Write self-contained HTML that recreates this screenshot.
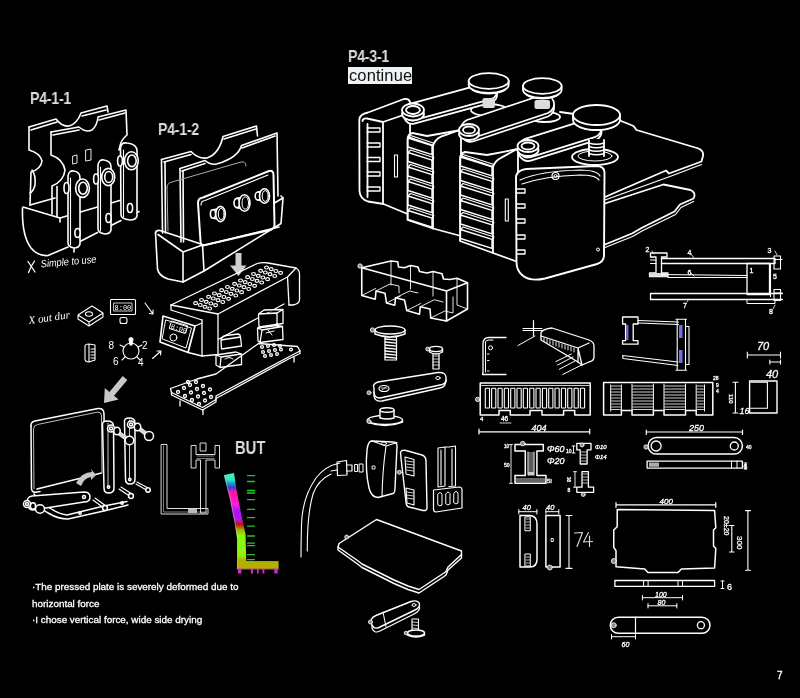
<!DOCTYPE html>
<html><head><meta charset="utf-8">
<style>
html,body{margin:0;padding:0;background:#000;}
body{width:800px;height:698px;overflow:hidden;position:relative;font-family:"Liberation Sans",sans-serif;}
.lbl{position:absolute;color:#dcdcdc;font-weight:bold;font-size:16.5px;line-height:16px;letter-spacing:-0.3px;white-space:nowrap;transform:scaleX(0.86);transform-origin:0 0;}
.cont{position:absolute;left:348px;top:66.5px;width:64px;height:16.5px;background:#eef4f6;color:#111;font-size:16.5px;line-height:16px;text-indent:1px;letter-spacing:0.1px;}
.txt{position:absolute;left:31.5px;color:#fff;-webkit-text-stroke:0.3px #fff;font-size:9.9px;line-height:12px;white-space:nowrap;}
svg{position:absolute;left:0;top:0;will-change:transform;}
.lbl,.txt,.cont{will-change:transform;}
</style></head><body>
<div class="lbl" style="left:30px;top:89.5px;">P4-1-1</div>
<div class="lbl" style="left:158px;top:121.3px;">P4-1-2</div>
<div class="lbl" style="left:348px;top:48.3px;">P4-3-1</div>
<div class="cont">continue</div>
<div class="lbl" style="left:234.5px;top:439px;font-size:18.5px;line-height:18px;transform:scaleX(0.8);letter-spacing:0;">BUT</div>
<div class="txt" style="top:581px;">·The pressed plate is severely deformed due to</div>
<div class="txt" style="top:598px;">horizontal force</div>
<div class="txt" style="top:614px;">·I chose vertical force, wide side drying</div>
<div class="txt" style="left:776.5px;top:670px;font-size:10px;">7</div>
<svg width="800" height="698" viewBox="0 0 800 698" fill="none" stroke="#fff" stroke-width="1.3" stroke-linecap="round" stroke-linejoin="round">

<!-- P4-1-1 -->
<g id="p411" stroke-width="1.6">
<path d="M29,127 L56,119 Q62,127 69,126 Q77,124 81,113 L107,106 L108,112"/>
<path d="M31,130 L57,122 M82,116 L106,110"/>
<path d="M29,127 L29,150 Q40,153 42,161 Q41,169 31,172 L30,205"/>
<path d="M32,170 Q36,175 35,185 Q33,192 30,193"/>
<path d="M51,132 L79,127 Q86,133 92,130 Q97,126 98,117 L126,110 L127,135 Q121,140 120,146 L119,150"/>
<path d="M53,135 L79,130 M99,120 L125,113"/>
<path d="M51,132 L51,155 Q63,159 65,170 Q64,181 52,186 L52,214"/>
<path d="M57,186.5 L57,216.5"/>
<path d="M86,150 L91,149 L91,160 L86,161 Z M73,156 L77,155 L77,163 L73,164Z" stroke-width="0.9"/>
<path d="M23,207 L60,218 L135,196"/>
<path d="M30,205 L55,198 M60,218 L60,222"/>
<path d="M22.5,208 C22,225 25,240 31,248 C36,254 42,256 48,255.5 L68,247"/>
<path d="M80,241.5 L97.5,232.5 M111,225.5 L121,220.5 M137,212.5 L139,211.5"/>
<!-- latch1 -->

<path d="M68,176 Q69,170 74,171 Q80,172 80,178 L80,244 Q79,248 74,248 Q68,247 68,243 Z" fill="#000"/>
<ellipse cx="82.5" cy="188.2" rx="6.9" ry="9.2" fill="#000"/>
<ellipse cx="83" cy="188.2" rx="4.3" ry="6"/>
<ellipse cx="66.5" cy="188" rx="2.5" ry="5.5" fill="#000"/>
<ellipse cx="77.5" cy="233" rx="2.6" ry="4.5" fill="#000"/>
<!-- latch2 -->
<path d="M98,165 Q99,159 104,160 Q111,161 111,167 L111,230 Q110,234 105,234 Q98,233 98,229 Z" fill="#000"/>
<ellipse cx="108.2" cy="177" rx="6.5" ry="8.6" fill="#000"/>
<ellipse cx="108.7" cy="177" rx="4" ry="5.5"/>
<ellipse cx="96" cy="179" rx="2.4" ry="5" fill="#000"/>
<ellipse cx="108.5" cy="218" rx="2.6" ry="4.5" fill="#000"/>
<!-- latch3 -->
<path d="M120.5,148 Q121,142 127,143 Q137,144 137,151 L137,216 Q136,220 130,220 Q121,219 121,215 Z" fill="#000"/>
<ellipse cx="131.4" cy="160.8" rx="6.9" ry="9" fill="#000"/>
<ellipse cx="131.9" cy="160.8" rx="4.3" ry="5.8"/>
<ellipse cx="120" cy="161" rx="2.4" ry="5" fill="#000"/>
<ellipse cx="130" cy="208" rx="2.6" ry="4.5" fill="#000"/>
<path d="M70.5,178 L70.5,245 M100.5,167 L100.5,231 M123.5,150 L123.5,217" stroke-width="1.1"/>
<path d="M74,249 L74,252" />
<path d="M28,261.5 Q31,266 35,272 M34.5,261 Q31,266 28.5,272.5" stroke-width="1.3"/>
<text x="0" y="0" fill="#fff" stroke="none" font-size="10.5" font-style="italic" font-family="Liberation Sans" transform="translate(41,267.5) rotate(-5) scale(0.88,1)">Simple to use</text>
</g>

<!-- P4-1-2 -->
<g id="p412" stroke-width="1.6">
<path d="M161.5,159.5 L191,151.5 Q198,159 207,158 Q219,154 223,136.5 L256.5,126 L257.5,136"/>
<path d="M164,162 L191,154.5 M224,139 L256,129"/>
<path d="M161.5,159.5 L162.5,233 M165,162 L165.5,233"/>
<path d="M180,168.5 L205,160.5 Q210,165 216.5,164 Q238,158 241.5,145.5 L277,133 L278,196"/>
<path d="M182,171 L205,163.5 M242,148 L275,136"/>
<path d="M180,168.5 L181,242 M183,171 L183.5,242"/>
<path d="M167,187 Q167,183 172,182 L241,162 Q246,161 246,166 M167,187 L168,231" stroke="#aaa" stroke-width="1"/>

<path d="M155.5,233 Q156,230 160,230.5 L202.5,244.5 L283,198 L281,196"/>
<path d="M155.5,233 L157.5,269 Q159,276 168,279 L183,282 L204,271 L281,223.5 L283,198"/>
<path d="M202.5,244.5 L204,271 M183,252 L183,282 M158,234.5 L183,252 L202.5,245"/>
<path d="M198,203 Q198,198 203,197.5 L269,171 Q273.5,170 273.5,175 L274.5,225 Q274.5,228.5 270,230 L205,245 Q200.5,246 200.5,241 Z" stroke-width="2" fill="#000"/>
<path d="M201,205 Q201,201 205,200.5 L268,175" stroke-width="1.1"/>
<path d="M203.4,245.5 L279,227" stroke-width="1.6"/>
<path d="M213,209.8 L219.1,208.7 L219.1,219.3 L213,218.2" fill="#000"/><ellipse cx="213" cy="214" rx="2.6" ry="4.2" fill="#000"/><ellipse cx="220.5" cy="214" rx="4.8" ry="7.6" fill="#000"/><ellipse cx="221.2" cy="214" rx="2.9" ry="5.7" stroke-width="1"/><path d="M237,198.4 L242.8,197.2 L242.8,208.8 L237,207.6" fill="#000"/><ellipse cx="237" cy="203" rx="3.0" ry="4.6" fill="#000"/><ellipse cx="244.5" cy="203" rx="5.5" ry="8.3" fill="#000"/><ellipse cx="245.3" cy="203" rx="3.3" ry="6.2" stroke-width="1"/><path d="M258,192.0 L263.0,191.0 L263.0,201.0 L258,200.0" fill="#000"/><ellipse cx="258" cy="196" rx="2.8" ry="4.0" fill="#000"/><ellipse cx="264.5" cy="196" rx="5" ry="7.2" fill="#000"/><ellipse cx="265.2" cy="196" rx="3.0" ry="5.4" stroke-width="1"/>
<path d="M235.5,253 L241.5,253 L241.5,265.5 L246.5,265.5 L238.5,276 L230,265.5 L235.5,265.5 Z" fill="#cfcfcf" stroke="none"/>
</g>

<!-- device -->
<g id="device">
<path d="M171,305 L256,264 Q262,262 268,263 L296,268 Q300,270 299.5,276 L299.5,300 Q299,304 293,305 L289,305"/>
<path d="M171,305 L218,314 L287.5,277 L289,305 M287.5,277 L296,268"/>
<path d="M218,314 L218,354.5 L202,356 L202,320 M218,339.5 L284,304"/>
<path d="M171,305 L171,310 L202,320"/>
<path d="M163,316 L195,326 L188,352.5 L160,342 Z" stroke-width="1.7"/>
<path d="M166,320 L191.5,328 L186,348 L162.5,339 Z" stroke-width="1"/>
<rect x="170" y="323" width="17" height="8" rx="1" transform="rotate(17 178 327)" stroke-width="1"/>
<text x="171" y="330.5" fill="#fff" stroke="none" font-size="7" font-family="Liberation Mono" transform="rotate(17 178 327)">8:00</text>
<circle cx="173.5" cy="337.5" r="3.5" stroke-width="1"/>
<path d="M195,326 L202,323 M188,352.5 L202,356"/>
<ellipse cx="266.5" cy="267.5" rx="1.9" ry="1.5" stroke-width="1.2"/>
<ellipse cx="271.2" cy="269.2" rx="1.9" ry="1.5" stroke-width="1.2"/>
<ellipse cx="275.9" cy="271.0" rx="1.9" ry="1.5" stroke-width="1.2"/>
<ellipse cx="280.6" cy="272.8" rx="1.9" ry="1.5" stroke-width="1.2"/>
<ellipse cx="260.6" cy="270.8" rx="1.9" ry="1.5" stroke-width="1.2"/>
<ellipse cx="265.3" cy="272.5" rx="1.9" ry="1.5" stroke-width="1.2"/>
<ellipse cx="270.0" cy="274.2" rx="1.9" ry="1.5" stroke-width="1.2"/>
<ellipse cx="274.7" cy="276.0" rx="1.9" ry="1.5" stroke-width="1.2"/>
<ellipse cx="253.5" cy="274.0" rx="1.9" ry="1.5" stroke-width="1.2"/>
<ellipse cx="258.2" cy="275.8" rx="1.9" ry="1.5" stroke-width="1.2"/>
<ellipse cx="262.9" cy="277.5" rx="1.9" ry="1.5" stroke-width="1.2"/>
<ellipse cx="267.6" cy="279.2" rx="1.9" ry="1.5" stroke-width="1.2"/>
<ellipse cx="247.6" cy="277.2" rx="1.9" ry="1.5" stroke-width="1.2"/>
<ellipse cx="252.3" cy="279.0" rx="1.9" ry="1.5" stroke-width="1.2"/>
<ellipse cx="257.0" cy="280.8" rx="1.9" ry="1.5" stroke-width="1.2"/>
<ellipse cx="261.7" cy="282.5" rx="1.9" ry="1.5" stroke-width="1.2"/>
<ellipse cx="240.5" cy="280.5" rx="1.9" ry="1.5" stroke-width="1.2"/>
<ellipse cx="245.2" cy="282.2" rx="1.9" ry="1.5" stroke-width="1.2"/>
<ellipse cx="249.9" cy="284.0" rx="1.9" ry="1.5" stroke-width="1.2"/>
<ellipse cx="254.6" cy="285.8" rx="1.9" ry="1.5" stroke-width="1.2"/>
<ellipse cx="234.6" cy="283.8" rx="1.9" ry="1.5" stroke-width="1.2"/>
<ellipse cx="239.3" cy="285.5" rx="1.9" ry="1.5" stroke-width="1.2"/>
<ellipse cx="244.0" cy="287.2" rx="1.9" ry="1.5" stroke-width="1.2"/>
<ellipse cx="248.7" cy="289.0" rx="1.9" ry="1.5" stroke-width="1.2"/>
<ellipse cx="227.5" cy="287.0" rx="1.9" ry="1.5" stroke-width="1.2"/>
<ellipse cx="232.2" cy="288.8" rx="1.9" ry="1.5" stroke-width="1.2"/>
<ellipse cx="236.9" cy="290.5" rx="1.9" ry="1.5" stroke-width="1.2"/>
<ellipse cx="241.6" cy="292.2" rx="1.9" ry="1.5" stroke-width="1.2"/>
<ellipse cx="221.6" cy="290.2" rx="1.9" ry="1.5" stroke-width="1.2"/>
<ellipse cx="226.3" cy="292.0" rx="1.9" ry="1.5" stroke-width="1.2"/>
<ellipse cx="231.0" cy="293.8" rx="1.9" ry="1.5" stroke-width="1.2"/>
<ellipse cx="235.7" cy="295.5" rx="1.9" ry="1.5" stroke-width="1.2"/>
<ellipse cx="214.5" cy="293.5" rx="1.9" ry="1.5" stroke-width="1.2"/>
<ellipse cx="219.2" cy="295.2" rx="1.9" ry="1.5" stroke-width="1.2"/>
<ellipse cx="223.9" cy="297.0" rx="1.9" ry="1.5" stroke-width="1.2"/>
<ellipse cx="228.6" cy="298.8" rx="1.9" ry="1.5" stroke-width="1.2"/>
<ellipse cx="208.6" cy="296.8" rx="1.9" ry="1.5" stroke-width="1.2"/>
<ellipse cx="213.3" cy="298.5" rx="1.9" ry="1.5" stroke-width="1.2"/>
<ellipse cx="218.0" cy="300.2" rx="1.9" ry="1.5" stroke-width="1.2"/>
<ellipse cx="222.7" cy="302.0" rx="1.9" ry="1.5" stroke-width="1.2"/>
<ellipse cx="201.5" cy="300.0" rx="1.9" ry="1.5" stroke-width="1.2"/>
<ellipse cx="206.2" cy="301.8" rx="1.9" ry="1.5" stroke-width="1.2"/>
<ellipse cx="210.9" cy="303.5" rx="1.9" ry="1.5" stroke-width="1.2"/>
<ellipse cx="215.6" cy="305.2" rx="1.9" ry="1.5" stroke-width="1.2"/>
<ellipse cx="195.6" cy="303.2" rx="1.9" ry="1.5" stroke-width="1.2"/>
<ellipse cx="200.3" cy="305.0" rx="1.9" ry="1.5" stroke-width="1.2"/>
<ellipse cx="205.0" cy="306.8" rx="1.9" ry="1.5" stroke-width="1.2"/>
<ellipse cx="209.7" cy="308.5" rx="1.9" ry="1.5" stroke-width="1.2"/>
<!-- pedestals -->
<path d="M221,340 L240.5,337 L241.5,346 L221.5,349 Z M221,340 Q222,336 226,335.5 L238,334 Q240,334 240.5,337"/>
<path d="M216,355 L236,352 L241.5,354 L241.5,364.5 L220,367.5 L216,365 Z M216,355 L221,357 L241.5,354 M221,357 L220,367.5"/>
<path d="M225,359 Q229,356 233,359" stroke-width="1"/>
<path d="M258.5,314 L264,310 L283,309.5 L283,323.5 L259,327 Z M258.5,314 L277,313 L283,309.5 M277,313 L277,325" fill="#000"/>
<path d="M257.5,328 L277,325.5 L282.5,326.5 L283,339.5 L260,342.5 L258,341 Z M257.5,328 L262,330 L282.5,326.5 M262,330 L260,342.5"/>
<path d="M266,333 L274,331 M268,330 L272,335" stroke-width="1"/>
<!-- base plate -->
<path d="M170.5,388.5 L197,379 L216,374 L258.5,343.5 L297.5,346.5 L300,351 L288.5,357 L216,396 L216,399.5 L202.5,407.5 L171.5,392.5 Z"/>
<path d="M171.5,392.5 L171.5,395 L202.5,410 L216,402 L216,399.5 M216,398.5 L288.5,359 L300,353.5 L300,351"/>
<path d="M180,401 L180,406 M203,410 L203,414.5 M294,357 L294,362" stroke-width="1.3"/>
<circle cx="178" cy="392" r="1.5"/><circle cx="184" cy="388" r="1.5"/><circle cx="190" cy="385" r="1.5"/><circle cx="196" cy="382" r="1.5"/><circle cx="185" cy="396" r="1.5"/><circle cx="191" cy="392.5" r="1.5"/><circle cx="197" cy="389" r="1.5"/><circle cx="203" cy="386" r="1.5"/><circle cx="192" cy="400" r="1.5"/><circle cx="198" cy="396.5" r="1.5"/><circle cx="204" cy="393" r="1.5"/><circle cx="210" cy="389.5" r="1.5"/><circle cx="199" cy="404" r="1.5"/><circle cx="205" cy="400.5" r="1.5"/><circle cx="211" cy="397" r="1.5"/><circle cx="188" cy="382" r="1.5"/><circle cx="262" cy="347" r="1.4"/><circle cx="268" cy="346" r="1.4"/><circle cx="274" cy="345" r="1.4"/><circle cx="280" cy="346" r="1.4"/><circle cx="263" cy="352" r="1.4"/><circle cx="269" cy="351" r="1.4"/><circle cx="275" cy="350" r="1.4"/><circle cx="281" cy="349.5" r="1.4"/><circle cx="265" cy="356" r="1.4"/><circle cx="271" cy="355" r="1.4"/><circle cx="277" cy="354" r="1.4"/><circle cx="291" cy="349.5" r="1.4"/>
</g>
<!-- notes -->
<g id="notes" stroke-width="1.1">
<text x="29" y="324" fill="#fff" stroke="none" font-size="11" font-style="italic" font-family="Liberation Serif" transform="rotate(-8 29 324)">X out dur</text>
<path d="M78,315 L92,306 L103,313 L103,317 L89,326 L78,319 Z M78,315 L89,322 L103,313 M89,322 L89,326"/>
<ellipse cx="89" cy="314" rx="3.5" ry="2.2"/>
<rect x="110.5" y="299.5" width="25" height="15" rx="1"/>
<rect x="114" y="303" width="18" height="8" stroke-width="0.8"/>
<text x="114.5" y="310" fill="#fff" stroke="none" font-size="7" font-family="Liberation Mono">8:00</text>
<rect x="120" y="317.5" width="7" height="6" rx="2"/>
<path d="M145,303 L153,314 M149.5,313.5 L153,314 L153,310"/>
<circle cx="131" cy="351" r="8"/>
<path d="M131,343 L131,339 M138,347 L142,345 M137,357 L140,360 M125,357 L122,360 M124,347 L120,345"/>
<path d="M129,339 Q131,336 133,339 L132,345 L130,345 Z" fill="#fff"/>
<text x="142" y="348.5" fill="#fff" stroke="none" font-size="10" font-family="Liberation Sans">2</text>
<text x="138" y="366" fill="#fff" stroke="none" font-size="10" font-family="Liberation Sans">4</text>
<text x="113" y="365" fill="#fff" stroke="none" font-size="10" font-family="Liberation Sans">6</text>
<text x="108.5" y="348.5" fill="#fff" stroke="none" font-size="10" font-family="Liberation Sans">8</text>
<path d="M85,346 Q85,344 89,344 L95,345 L95,360 L89,362 Q85,362 85,359 Z M89,344 L89,362 M91,349 L95,349 M91,352 L95,352 M91,355 L95,355 M91,358 L95,358"/>
<path d="M152.5,358.5 L161,351 M157,351 L161,351 L160.5,355"/>
</g>

<!-- bracket -->
<g id="bracket" stroke-width="1.5">
<path d="M104,403 L118.6,399.6 L114,395.7 L127.3,379.9 L122.7,376.1 L109.4,391.9 L104.8,388 Z" fill="#c8c8c8" stroke="none"/>
<path d="M31,426 Q30.5,422 35,421 L98,408.5 Q104,408 104,414 L104.5,472"/>
<path d="M33.5,429 Q33.5,425 37.5,424.5 L98,412 Q101.5,412 101.5,416 L102,472" stroke="#bbb" stroke-width="1"/>
<path d="M31,426 L31.5,489 Q32,493 37,492 L40,491.5"/><path d="M33.5,429 L34,488.5" stroke="#bbb" stroke-width="1"/>
<path d="M37,489 L101.5,473 M34,494 Q42,503 50,508 Q58,514 67,515 L104,506 L127,501.5"/>
<path d="M32,498 Q40,509 49,513.5 Q58,519 68,519 L106,510.5 L128,505"/>
<path d="M76,483 Q82,472 92,472 L91,469 L96,475 L91,480 L91,477 Q84,478 81,486 Z" fill="#c8c8c8" stroke="none"/>
<path d="M102.5,425 Q102,421 107,421 Q113.5,421 113.5,426 L114,488 Q114,493 108.5,493 Q104,493 104,488 Z" fill="#000"/>
<path d="M124.5,422 Q124,418 129,418 Q135,418 135,423 L135,479 Q135,484 130,484 Q125.5,484 125.5,479 Z" fill="#000"/>
<path d="M108,423 L108,486 M129.5,420 L129.5,478" stroke-width="0.8"/>
<circle cx="108.5" cy="487" r="1.2"/><circle cx="129.8" cy="479.5" r="1.2"/>
<path d="M116,431 L129,440.5" stroke="#d8d8d8" stroke-width="4.5"/>
<circle cx="111" cy="428.5" r="3.5" fill="#000"/><circle cx="111" cy="428.5" r="1.5"/>
<ellipse cx="117" cy="431" rx="3.2" ry="3.8" fill="#000"/>
<ellipse cx="129.5" cy="440.5" rx="4.3" ry="4.3" fill="#000"/>
<path d="M137,427 L149,436" stroke="#d8d8d8" stroke-width="4.5"/>
<circle cx="131" cy="424.5" r="3.5" fill="#000"/><circle cx="131" cy="424.5" r="1.5"/>
<ellipse cx="137.5" cy="427" rx="3.2" ry="3.8" fill="#000"/>
<ellipse cx="149" cy="436" rx="4.5" ry="4.5" fill="#000"/>
<path d="M28,503 Q26,497 32,496 L84,492 Q90,492 90,497 Q90,502 84,502 L33,510 Q28,510 28,503 Z" fill="#000"/>
<circle cx="84" cy="497" r="1.5"/>
<circle cx="27" cy="504" r="3.5" fill="#000"/><circle cx="27" cy="504" r="1.5"/>
<ellipse cx="33" cy="506" rx="2.6" ry="3.3" fill="#000"/>
<ellipse cx="40" cy="509" rx="4.5" ry="4.2" fill="#000"/>
<path d="M93,500 L105,509 M95,498 L106,506" stroke-width="1.1"/>
<circle cx="105" cy="508" r="2.4" fill="#000"/>
<path d="M119,489 L131,497 M121,487 L132,494" stroke-width="1.1"/>
<circle cx="131" cy="496" r="2.4" fill="#000"/>
<path d="M136,484 L148,491 M137,482 L149,488.5" stroke-width="1.1"/>
<circle cx="148" cy="490" r="2.2" fill="#000"/>
<circle cx="80" cy="513" r="1.2"/><circle cx="122" cy="503" r="1.2"/>
</g>

<!-- L profile & FEA -->
<defs>
<linearGradient id="fea" x1="0" y1="472" x2="0" y2="569" gradientUnits="userSpaceOnUse">
<stop offset="0" stop-color="#40f8b8"/>
<stop offset="0.08" stop-color="#30e8c0"/>
<stop offset="0.12" stop-color="#2090d0"/>
<stop offset="0.16" stop-color="#3040e0"/>
<stop offset="0.20" stop-color="#ff10a8"/>
<stop offset="0.33" stop-color="#ff20d8"/>
<stop offset="0.40" stop-color="#b010ff"/>
<stop offset="0.49" stop-color="#b818e0"/>
<stop offset="0.54" stop-color="#c01020"/>
<stop offset="0.60" stop-color="#a0b800"/>
<stop offset="0.66" stop-color="#80ff10"/>
<stop offset="0.86" stop-color="#90f010"/>
<stop offset="0.91" stop-color="#b0b000"/>
<stop offset="1" stop-color="#b0b000"/>
</linearGradient>
</defs>
<g id="lprof" stroke-width="1">
<path d="M161.5,444.5 L167,444.5 L167,508.5 L208,508.5 L208,514 L161.5,514 Z" stroke="#ddd"/>
<path d="M163.5,446 L163.5,512 L206,512" stroke="#999" stroke-width="0.8"/>
<rect x="188" y="509" width="9" height="4" fill="#bbb" stroke="none"/>
<path d="M191.5,445.5 L196,445.5 L196,454.5 L215,454.5 L215,445.5 L219.5,445.5 L219.5,468 L215,468 L215,460 L206,460 L206,513 L200.5,513 L200.5,460 L196,460 L196,468 L191.5,468 Z" stroke="#ddd"/>
<path d="M200.5,443 L206,443 L206,451 L200.5,451 Z" stroke="#ddd"/>
<path d="M197,456 L214,456 M197,458.5 L214,458.5" stroke="#aaa" stroke-width="0.7"/>
<path d="M224.1,474.9 L234,472.9 L236.5,489.7 L242.2,519.3 L245.5,534 L246.3,561.3 L278.4,561.3 L278.4,568.7 L237.3,568.7 L237.3,539 L234.8,522.6 L229.9,497.9 Z" fill="url(#fea)" stroke="none"/>
<rect x="237.3" y="561.3" width="41.1" height="7.4" fill="#b0b000" stroke="none"/>
<path d="M224.3,475.5 L230,498 L235,522.6 L237.5,539 L237.5,568.5" stroke="#e0e0e0" stroke-width="0.7" opacity="0.7"/>
<path d="M247.5,475.7 L254.5,475.7" stroke="#20c828" stroke-width="1.3"/><path d="M247.5,481.5 L254.5,481.5" stroke="#20c828" stroke-width="1.3"/><path d="M247.5,490.5 L254.5,490.5" stroke="#20c828" stroke-width="1.3"/><path d="M247.5,493 L254.5,493" stroke="#20c828" stroke-width="1.3"/><path d="M247.5,499.6 L254.5,499.6" stroke="#20c828" stroke-width="1.3"/><path d="M247.5,509.4 L254.5,509.4" stroke="#20c828" stroke-width="1.3"/><path d="M247.5,517.7 L254.5,517.7" stroke="#20c828" stroke-width="1.3"/><path d="M247.5,526.2 L254.5,526.2" stroke="#20c828" stroke-width="1.3"/><path d="M247.5,536 L254.5,536" stroke="#20c828" stroke-width="1.3"/><path d="M247.5,543.2 L254.5,543.2" stroke="#20c828" stroke-width="1.3"/><path d="M247.5,545.6 L254.5,545.6" stroke="#20c828" stroke-width="1.3"/><path d="M247.5,554.7 L254.5,554.7" stroke="#20c828" stroke-width="1.3"/><path d="M247.5,559.6 L254.5,559.6" stroke="#20c828" stroke-width="1.3"/><rect x="238" y="569" width="3.4" height="4.5" fill="#e020e0" stroke="none"/><rect x="251" y="569" width="2.0" height="4.5" fill="#e020e0" stroke="none"/><rect x="257" y="569" width="1.7" height="4.5" fill="#e020e0" stroke="none"/><rect x="262.5" y="569" width="1.9" height="4.5" fill="#e020e0" stroke="none"/><rect x="274.3" y="569" width="3.3" height="4.5" fill="#e020e0" stroke="none"/><path d="M237,569.2 L279,569.2" stroke="#e020e0" stroke-width="0.8"/>
</g>

<!-- P4-3-1 assembly -->
<g id="p431" stroke-width="1.8">
<!-- shelves -->
<path d="M560,112 L620,120.5 L633.5,126 L636.5,130 L698.5,148.5 Q704,151 703,156 L701.5,161.5 L669,173.5 L666,170.5 L605,197" fill="#000"/>
<path d="M701.5,164.5 L670,176.5 L605,200" stroke-width="1.2"/>
<path d="M605,203.5 L663.5,184.5 L690.5,190 Q695,192 694.5,196 L693.5,198.5 L680,204.5 L674.5,211.5 L641.5,228 L632,233.5 L605,244.5" fill="#000"/>
<path d="M693.5,201.5 L681,207.5 L675.5,214.5 L642,231 L632.5,236.5 L605,247.5" stroke-width="1.2"/>
<!-- block 1 -->
<path d="M368,112.5 L404,99 Q409,98 410,102 L410,215 L383.5,204 L368,201.5 Q360,199 359.5,191 L359.3,120 Q359.5,114 368,112.5 Z" fill="#000"/>
<path d="M362.5,121 Q363,118 367,118.5 L383,122 L402,115.5 M383,122 L383,204 M367.5,124 L367.5,197"/>
<path d="M367,128 L380,128 L380,132 L367,132" stroke-width="1.3"/><path d="M367,143 L380,143 L380,147 L367,147" stroke-width="1.3"/><path d="M367,157.5 L380,157.5 L380,161.5 L367,161.5" stroke-width="1.3"/><path d="M367,172 L380,172 L380,176 L367,176" stroke-width="1.3"/><path d="M367,187 L380,187 L380,191 L367,191" stroke-width="1.3"/>
<rect x="394.5" y="155" width="3" height="22" stroke-width="1.1"/>
<!-- block 2 -->
<path d="M407.5,140 Q407.5,134 412.5,133 L427,136 L461,130 L461,236 L433,228.5 L407.5,220 Z" fill="#000"/><path d="M408.5,137 L433,145.65 Q435,139.65 441,136.65 L460,130" /><path d="M433,145.65 L433,228.5" /><path d="M408.0,138.0 L432,145.7 L432,154.7 L408.0,147.0 Z" fill="#000" stroke-width="1.4"/><path d="M408.0,138.0 L410.5,135.5 L434,143.2 L432,145.7" stroke-width="1.1"/><path d="M408.0,152.5 L432,160.2 L432,169.2 L408.0,161.5 Z" fill="#000" stroke-width="1.4"/><path d="M408.0,152.5 L410.5,150.0 L434,157.7 L432,160.2" stroke-width="1.1"/><path d="M408.0,167.0 L432,174.7 L432,183.7 L408.0,176.0 Z" fill="#000" stroke-width="1.4"/><path d="M408.0,167.0 L410.5,164.5 L434,172.2 L432,174.7" stroke-width="1.1"/><path d="M408.0,181.5 L432,189.2 L432,198.2 L408.0,190.5 Z" fill="#000" stroke-width="1.4"/><path d="M408.0,181.5 L410.5,179.0 L434,186.7 L432,189.2" stroke-width="1.1"/><path d="M408.0,196.0 L432,203.7 L432,212.7 L408.0,205.0 Z" fill="#000" stroke-width="1.4"/><path d="M408.0,196.0 L410.5,193.5 L434,201.2 L432,203.7" stroke-width="1.1"/><path d="M408.0,210.5 L432,218.2 L432,227.2 L408.0,219.5 Z" fill="#000" stroke-width="1.4"/><path d="M408.0,210.5 L410.5,208.0 L434,215.7 L432,218.2" stroke-width="1.1"/>
<!-- block 3 -->
<path d="M460,159 Q460,153 465,152 L487,155 L518,149 L518,262 L493,253 L460,241 Z" fill="#000"/><path d="M461,156 L493,166.9 Q495,160.9 501,157.9 L517,149" /><path d="M493,166.9 L493,253" /><path d="M460.5,157.0 L492,166.9 L492,175.9 L460.5,166.0 Z" fill="#000" stroke-width="1.4"/><path d="M460.5,157.0 L463,154.5 L494,164.4 L492,166.9" stroke-width="1.1"/><path d="M460.5,171.5 L492,181.4 L492,190.4 L460.5,180.5 Z" fill="#000" stroke-width="1.4"/><path d="M460.5,171.5 L463,169.0 L494,178.9 L492,181.4" stroke-width="1.1"/><path d="M460.5,186.0 L492,195.9 L492,204.9 L460.5,195.0 Z" fill="#000" stroke-width="1.4"/><path d="M460.5,186.0 L463,183.5 L494,193.4 L492,195.9" stroke-width="1.1"/><path d="M460.5,200.5 L492,210.4 L492,219.4 L460.5,209.5 Z" fill="#000" stroke-width="1.4"/><path d="M460.5,200.5 L463,198.0 L494,207.9 L492,210.4" stroke-width="1.1"/><path d="M460.5,215.0 L492,224.9 L492,233.9 L460.5,224.0 Z" fill="#000" stroke-width="1.4"/><path d="M460.5,215.0 L463,212.5 L494,222.4 L492,224.9" stroke-width="1.1"/><path d="M460.5,229.5 L492,239.4 L492,248.4 L460.5,238.5 Z" fill="#000" stroke-width="1.4"/><path d="M460.5,229.5 L463,227.0 L494,236.9 L492,239.4" stroke-width="1.1"/><rect x="505.3" y="199" width="3" height="22" stroke-width="1.1"/>
<!-- link A + knob1 -->
<ellipse cx="489" cy="110" rx="18" ry="6" fill="#000"/><ellipse cx="545" cy="117" rx="15" ry="5" fill="#000"/>
<path d="M414.2,123.7 L491.2,102.7 A8.5,8.5 0 0 0 486.8,86.3 L409.8,107.3 A8.5,8.5 0 0 0 414.2,123.7 Z" fill="#000"/><path d="M414.2,120.2 L491.2,99.2 A8.5,8.5 0 0 0 486.8,82.8 L409.8,103.8 A8.5,8.5 0 0 0 414.2,120.2 Z" fill="#000"/>
<ellipse cx="413" cy="114" rx="11" ry="6.5" fill="#000"/>
<ellipse cx="413" cy="110" rx="11" ry="6.5" fill="#000"/>
<ellipse cx="413" cy="110" rx="7" ry="4"/>

<rect x="482.5" y="98" width="12.5" height="10" rx="2" fill="#ddd" stroke="none"/>
<ellipse cx="488.7" cy="88" rx="17.0" ry="5.5" fill="#000"/><path d="M468.7,81 L468.7,85 A20,7.8 0 0 0 508.7,85 L508.7,81" fill="#000"/><ellipse cx="488.7" cy="81" rx="20" ry="7.8" fill="#000"/>
<!-- link B + knob2 -->
<path d="M473.0,141.5 L548.0,116.5 A9.5,9.5 0 0 0 542.0,98.5 L467.0,123.5 A9.5,9.5 0 0 0 473.0,141.5 Z" fill="#000"/><path d="M473.0,138.0 L548.0,113.0 A9.5,9.5 0 0 0 542.0,95.0 L467.0,120.0 A9.5,9.5 0 0 0 473.0,138.0 Z" fill="#000"/>
<ellipse cx="469" cy="134" rx="10" ry="6" fill="#000"/>
<ellipse cx="469" cy="130" rx="10" ry="6" fill="#000"/>
<ellipse cx="469" cy="130" rx="6" ry="3.5"/>

<rect x="534.5" y="100" width="15.5" height="9" rx="2" fill="#ddd" stroke="none"/>
<ellipse cx="542.3" cy="93" rx="16.4" ry="5.5" fill="#000"/><path d="M523.0,86 L523.0,90 A19.3,7.8 0 0 0 561.5999999999999,90 L561.5999999999999,86" fill="#000"/><ellipse cx="542.3" cy="86" rx="19.3" ry="7.8" fill="#000"/>
<!-- block 4 -->
<path d="M516,176 Q518,170 526,169 L596,166 Q604,166 604.5,172 L604,256 Q603.5,262 597,264 L545,278.5 Q530,282 522,275 Q516.5,270 516.5,262 Z" fill="#000" stroke-width="1.9"/>
<path d="M520,180 Q540,171 580,170 Q597,170 600,176 M522,184 Q545,176 580,175 Q596,175 599,180" stroke-width="1.2"/>
<circle cx="555.5" cy="176" r="3.5" stroke-width="1.2"/><circle cx="555.5" cy="176" r="1.5" stroke-width="1"/>
<circle cx="598" cy="249.5" r="1.5" stroke-width="1"/>
<path d="M516.5,189 L525,189 L525,193 L516.5,193" stroke-width="1.3"/><path d="M516.5,204 L525,204 L525,208 L516.5,208" stroke-width="1.3"/><path d="M516.5,219 L525,219 L525,223 L516.5,223" stroke-width="1.3"/><path d="M516.5,235 L525,235 L525,239 L516.5,239" stroke-width="1.3"/><path d="M516.5,250 L525,250 L525,254 L516.5,254" stroke-width="1.3"/>
<!-- link C + knob3 -->
<path d="M530.8,160.6 L594.8,140.6 A9.5,9.5 0 0 0 589.2,122.4 L525.2,142.4 A9.5,9.5 0 0 0 530.8,160.6 Z" fill="#000"/><path d="M530.8,157.1 L594.8,137.1 A9.5,9.5 0 0 0 589.2,118.9 L525.2,138.9 A9.5,9.5 0 0 0 530.8,157.1 Z" fill="#000"/>
<ellipse cx="528" cy="150" rx="10.5" ry="6" fill="#000"/>
<ellipse cx="528" cy="146" rx="10.5" ry="6" fill="#000"/>
<ellipse cx="528" cy="146" rx="6.5" ry="3.5"/>
<ellipse cx="595" cy="157" rx="23" ry="8" fill="#000"/>
<ellipse cx="595" cy="156" rx="17" ry="5" stroke-width="1"/>
<rect x="589" y="139" width="15" height="18" fill="#000" stroke="none"/>
<path d="M589,140 L589,156 M604,140 L604,156"/>
<path d="M589,143 Q596.5,145.5 604,143" stroke-width="1.5"/><path d="M589,146.5 Q596.5,149.0 604,146.5" stroke-width="1.5"/><path d="M589,150 Q596.5,152.5 604,150" stroke-width="1.5"/><path d="M589,153.5 Q596.5,156.0 604,153.5" stroke-width="1.5"/>
<ellipse cx="596.5" cy="123" rx="20.0" ry="7.0" fill="#000"/><path d="M573.0,115 L573.0,120 A23.5,10 0 0 0 620.0,120 L620.0,115" fill="#000"/><ellipse cx="596.5" cy="115" rx="23.5" ry="10" fill="#000"/>
</g>

<!-- exploded parts -->
<g id="parts" stroke-width="1.4">
<!-- comb box -->
<path d="M361.75,267.75 L391,261 L397.75,261.75 L398.5,267 L404.5,267.75 L410.5,265.5 L418,267 L419.5,271.5 L427,273 L433,271.5 L442,273.75 L443.5,279 L450,279.5 L457,278.25 L467.5,282.75 L467.5,309 L446.5,321 L430.75,318 L430,309 L420.25,306.75 L419.5,314.25 L406.75,310.5 L404.5,300 L395.5,297.75 L394.75,305.25 L386.5,303 L385,293.25 L376,291 L375.25,299.25 L361.75,295.5 Z" stroke-width="1.6"/>
<path d="M361.75,267.75 L446.5,291 L467.5,282.75 M446.5,291 L446.5,321" stroke-width="1.6"/>
<path d="M376,291 L390,284 L399,286 L399,293 M386.5,303 L400.5,296 M395.5,297.75 L409.5,291 L418,293 M406.75,310.5 L420.75,303.5 M420.25,306.75 L434.25,299.75 L443,302 M430.75,318 L444.75,311 L453,313 L453,297 M361.75,295.5 L375.75,288.5 M391,261 L391,285 M410.5,265.5 L410.5,289 M433,271.5 L433,296 M457,278.25 L457,305 L467.5,309" stroke-width="0.9"/>
<circle cx="360" cy="266" r="2.2" fill="#888" stroke-width="0.8"/>
<!-- thumb screw 1 -->
<rect x="385" y="337" width="11.5" height="23" fill="#000" stroke-width="1.2"/>
<path d="M385,339 L396.5,340.2" stroke-width="1.3"/><path d="M385,342 L396.5,343.2" stroke-width="1.3"/><path d="M385,345 L396.5,346.2" stroke-width="1.3"/><path d="M385,348 L396.5,349.2" stroke-width="1.3"/><path d="M385,351 L396.5,352.2" stroke-width="1.3"/><path d="M385,354 L396.5,355.2" stroke-width="1.3"/><path d="M385,357 L396.5,358.2" stroke-width="1.3"/>
<path d="M375,330 L375,334 Q390,340 405,334 L405,330" fill="#000"/>
<ellipse cx="390" cy="330" rx="15" ry="4" fill="#000"/>
<circle cx="372.5" cy="330" r="2.2" fill="#888" stroke-width="0.8"/>
<!-- screw 2 -->
<rect x="433" y="352" width="6" height="17" stroke-width="1.2"/>
<path d="M433,356 L439,356 M433,359 L439,359 M433,362 L439,362 M433,365 L439,365" stroke-width="0.8"/>
<path d="M429.5,349 L429.5,352 Q436,356 442.5,352 L442.5,349" fill="#000"/>
<ellipse cx="436" cy="349" rx="6.5" ry="2.6" fill="#000"/>
<circle cx="427.7" cy="349" r="2" fill="#888" stroke-width="0.8"/>
<!-- arm -->
<path d="M374,388 Q372,384 378,382 L438,372.5 Q446,372 446,377.5 L446,380 Q446,384 440,385 L380,398 Q374,398 374,392 Z" fill="#000"/>
<path d="M374,392 L374,396 Q375,402 382,401 L440,388 Q446,387 446,380" />
<ellipse cx="384" cy="388.5" rx="5" ry="3" stroke-width="1.2"/>
<path d="M381,388 L387,388 M382,390 L386,387" stroke-width="0.8"/>
<ellipse cx="438" cy="378" rx="2.2" ry="1.5" stroke-width="1"/>
<circle cx="369" cy="392.8" r="2" fill="#888" stroke-width="0.8"/>
<!-- washer -->
<path d="M367.5,420 L367.5,422 Q385,429 402.5,422 L402.5,420"/>
<ellipse cx="385" cy="420" rx="17.5" ry="4.5" fill="#000"/>
<path d="M380,410 L380,418 Q387,420 394,418 L394,410" fill="#000"/>
<ellipse cx="387" cy="410" rx="7" ry="2.2" fill="#000"/>
<circle cx="369" cy="421.5" r="2" fill="#888" stroke-width="0.8"/>
<!-- cable -->
<path d="M340,463 Q325,466 316,478 Q302,498 301.5,525 Q301,545 301,557" stroke-width="1.1"/>
<path d="M331,474 Q318,480 313,494 Q307,515 307.3,551" stroke-width="1.1"/>
<path d="M337,462 L346.5,460.5 L347,475 L337.5,475.5 Z M346.5,465 L352,465 L352,471 L346.5,471" stroke-width="1.2"/>
<path d="M331,471 L337,470" stroke-width="1"/>
<rect x="355" y="464.5" width="2.5" height="7" stroke-width="1"/>
<rect x="359.5" y="464" width="3.5" height="8" stroke-width="1"/>
<!-- D block -->
<path d="M372,441 Q368,441 367,450 Q365,470 369,488 Q371,497 378,497.5 L393,493.5 Q395,493 395,488 L397,446 Q397,442 393,442 Z" fill="#000"/>
<path d="M386,446 Q382.5,470 382,497 M372,441 L386,446 L397,442.5" stroke-width="1.1"/>
<ellipse cx="384" cy="443.5" rx="2.5" ry="1.6" stroke-width="1"/>
<rect x="372.5" y="466" width="2.5" height="3" stroke-width="0.9"/>
<!-- slotted block -->
<path d="M400.5,452 Q402,449.5 406,450.5 L422,455 Q426,456.5 426,461 L427,508 Q427,511 423,510.5 L409,507 Q406,506 406,502 L401,458 Z" fill="#000"/>
<path d="M405,457 L414,459.5 L414,476 L406,474 Z M406,488 L414,490 L414,505 L407,503 Z" stroke-width="1.1"/>
<path d="M406.5,461 L413.5,462 M406.5,464 L413.5,465 M406.5,467 L413.5,468 M406.5,470 L413.5,471 M407,492 L413.5,493 M407,495 L413.5,496 M407,498 L413.5,499" stroke-width="0.8"/>
<circle cx="399.4" cy="472.3" r="2" fill="#888" stroke-width="0.8"/>
<!-- comb piece -->
<path d="M438,448 L445,447 L445,486 L438,487 Z M449,447 L455.5,446 L455.5,486 L449,486.5 M445,447 L449,447 M441,450 L441,485 M452,449 L452,485" stroke-width="1.1"/>
<path d="M433.5,490 L459,487 Q462,487 462,490 L462,508 L436,512 Q433.5,512 433.5,509 Z" fill="#000" stroke-width="1.2"/>
<path d="M438,494 Q440,491 442,494 L442,505 Q440,507 438,505 Z M446,493.5 Q448,490.5 450,493.5 L450,504 Q448,506 446,504 Z M454,493 Q456,490 458,493 L458,503 Q456,505 454,503 Z" stroke-width="1"/>
<!-- plate -->
<path d="M339,543.5 L376.5,519.5 L461.5,551 L461.5,554.5 L448,567 L446,571.5 L444,573 L419,589.5 L408,586 L394,580 L362,564 L357.5,560.5 L338,547 Z" fill="#000"/>
<path d="M338,547 L338,550 L357.5,564 L362,567.5 L394,583.5 L408,589.5 L419,593 L444,576.5 L446,575 L448,570 L461.5,558 L461.5,554.5"/>
<circle cx="346.7" cy="537" r="2" fill="#888" stroke-width="0.8"/>
<!-- bottom arm -->
<path d="M372,625 Q369,618 376,615.5 L411,601.5 Q418,599.5 419.5,604 Q420,608 414,610.5 L379,627.5 Q374,629.5 372,625 Z" fill="#000"/>
<path d="M372,625 L372,628 Q374,634 380,631 L414,614 Q420,611 419.5,607" stroke-width="1.2"/>
<path d="M383,612 L386,627" stroke-width="1"/>
<ellipse cx="414" cy="605" rx="2" ry="1.4" stroke-width="1"/>
<circle cx="370.4" cy="622" r="2" fill="#888" stroke-width="0.8"/>
<rect x="412" y="619" width="6.5" height="12.5" stroke-width="1.1"/>
<path d="M412,622 L418.5,622.5 M412,625 L418.5,625.5 M412,628 L418.5,628.5" stroke-width="0.8"/>
<path d="M407.5,633 L407.5,635 Q416,639 424.5,635 L424.5,633"/>
<ellipse cx="416" cy="633" rx="8.5" ry="3" fill="#000"/>
<circle cx="406" cy="633" r="1.8" fill="#888" stroke-width="0.8"/>
</g>

<!-- tech drawings -->
<g id="tech" stroke-width="1.3">
<!-- beam diagram top right -->
<path d="M650.5,253 L667,253 L667,257 L661.5,257 L661.5,273 L668,273 L668,276.5 L649.5,276.5 L649.5,273 L656,273 L656,257 L650.5,257 Z"/>
<rect x="649.5" y="273" width="18.5" height="3.5" fill="#ddd" stroke="none"/>
<path d="M650.5,260 L656,260 M650.5,263.5 L656,263.5" stroke-width="1"/>
<path d="M661.5,258.5 L775,258.5 L775,263.5 L661.5,263.5" />
<path d="M661.5,274.5 L747,275.5 M668,277.5 L747,277.5" stroke-width="1.1"/>
<rect x="747" y="263.5" width="22.5" height="31" />
<path d="M770.5,263.5 L770.5,296.5" stroke-width="1.1"/>
<path d="M774,256 L780.5,256 L780.5,269 L774,269 Z M774,259.5 L782,259.5 M774,289.5 L780.5,289.5 L780.5,300.5 L774,300.5 Z M774,293 L782,293" stroke-width="1.1"/>
<path d="M650.5,293.5 L782.5,293.5 M650.5,293.5 L650.5,299.5 L782.5,299.5" />
<path d="M747,300 L747,303.5 L775,303.5 L775,300" stroke-width="1"/>
<path d="M652,251 L654,254 M691,254 L694,258 M775,251 L777,255 M691,273 L694,276 M687,302 L689,299 M773,309 L775,305" stroke-width="0.8"/>
<text x="645.5" y="252" fill="#fff" stroke="#fff" stroke-width="0.3" font-size="7" font-family="Liberation Sans" >2</text><text x="687.5" y="255" fill="#fff" stroke="#fff" stroke-width="0.3" font-size="7" font-family="Liberation Sans" >4</text><text x="767.5" y="252.5" fill="#fff" stroke="#fff" stroke-width="0.3" font-size="7" font-family="Liberation Sans" >3</text><text x="749.5" y="273" fill="#fff" stroke="#fff" stroke-width="0.3" font-size="7" font-family="Liberation Sans" >1</text><text x="687.5" y="274.5" fill="#fff" stroke="#fff" stroke-width="0.3" font-size="7" font-family="Liberation Sans" >6</text><text x="773" y="279" fill="#fff" stroke="#fff" stroke-width="0.3" font-size="7" font-family="Liberation Sans" >5</text><text x="683" y="308" fill="#fff" stroke="#fff" stroke-width="0.3" font-size="7" font-family="Liberation Sans" >7</text><text x="769" y="314" fill="#fff" stroke="#fff" stroke-width="0.3" font-size="7" font-family="Liberation Sans" >8</text>
<!-- small L bracket side view -->
<path d="M506,337.5 L489,337.5 Q483,337.5 483,344 L483,372 L482.5,374.5 L506,374.5" />
<path d="M485.5,342 Q486,340 489,340 L493,340 M485.5,342 L485.5,372" stroke-width="1"/>
<circle cx="490.5" cy="347.8" r="2" stroke-width="1"/>
<path d="M487.5,354 L489,354 M487.5,360.5 L489,360.5 M487.5,371 L489,371" stroke-width="1"/>
<!-- cross + lines + heater box -->
<path d="M533.5,320.5 L533.5,336 M523,328.5 L542,328.5 M523,330.5 L542,330.5" stroke-width="1.2"/>
<path d="M518,345.5 L535,336" stroke-width="1"/>
<path d="M541,332.5 Q543,329 552,328 L589,340 Q594,342 594,346 L594,357 Q594,361 589,362 L582,365 L578,362 L541,340 Z" fill="#000"/>
<path d="M541,336 L578,348 L582,365 M578,348 L589,343 M578,348 L578,362"/>
<path d="M544,338 L544,342 M547,339 L547,343 M550,340 L550,344 M553,341 L553,345 M556,342 L556,346 M559,343 L559,347 M562,344 L562,348 M565,345 L565,349 M568,346 L568,350 M571,347 L571,351 M574,348 L574,352" stroke-width="0.9"/>
<path d="M555.8,361.6 L571.3,354 M557.5,365 L573,357 M559.3,369.3 L575,361 M562.7,374.5 L581.6,365" stroke-width="1"/>
<!-- comb plate -->
<path d="M480.2,383 L590.2,383 L590.2,415 L574.7,415 L574.7,410.6 L563.6,410.6 L563.6,415 L542,415 L542,410.6 L530,410.6 L530,415 L510.3,415 L510.3,410.6 L499,410.6 L499,415 L480.2,415 Z" stroke-width="1.5"/>
<path d="M481.5,385.5 L589,385.5" stroke-width="0.8"/>
<rect x="485.3" y="388.3" width="4.2" height="19.7" rx="0.6" stroke-width="1.1"/><rect x="491.6" y="388.3" width="4.2" height="19.7" rx="0.6" stroke-width="1.1"/><rect x="498.0" y="388.3" width="4.2" height="19.7" rx="0.6" stroke-width="1.1"/><rect x="504.3" y="388.3" width="4.2" height="19.7" rx="0.6" stroke-width="1.1"/><rect x="510.7" y="388.3" width="4.2" height="19.7" rx="0.6" stroke-width="1.1"/><rect x="517.0" y="388.3" width="4.2" height="19.7" rx="0.6" stroke-width="1.1"/><rect x="523.3" y="388.3" width="4.2" height="19.7" rx="0.6" stroke-width="1.1"/><rect x="529.7" y="388.3" width="4.2" height="19.7" rx="0.6" stroke-width="1.1"/><rect x="536.0" y="388.3" width="4.2" height="19.7" rx="0.6" stroke-width="1.1"/><rect x="542.4" y="388.3" width="4.2" height="19.7" rx="0.6" stroke-width="1.1"/><rect x="548.7" y="388.3" width="4.2" height="19.7" rx="0.6" stroke-width="1.1"/><rect x="555.0" y="388.3" width="4.2" height="19.7" rx="0.6" stroke-width="1.1"/><rect x="561.4" y="388.3" width="4.2" height="19.7" rx="0.6" stroke-width="1.1"/><rect x="567.7" y="388.3" width="4.2" height="19.7" rx="0.6" stroke-width="1.1"/><rect x="574.1" y="388.3" width="4.2" height="19.7" rx="0.6" stroke-width="1.1"/><rect x="580.4" y="388.3" width="4.2" height="19.7" rx="0.6" stroke-width="1.1"/><circle cx="477.6" cy="399.4" r="2.2" fill="#888" stroke-width="0.8"/><text x="480" y="421" fill="#fff" stroke="#fff" stroke-width="0.3" font-size="6" font-family="Liberation Sans" >4</text><text x="501" y="420.5" fill="#fff" stroke="#fff" stroke-width="0.3" font-size="6.5" font-family="Liberation Sans" >46</text><path d="M500,423 L511,423" stroke-width="0.8"/>
<!-- 404 dim -->
<path d="M479,431.8 L589.7,431.8 M479,429 L479,434 M589.7,429 L589.7,434" stroke-width="1.2"/>
<text x="531.5" y="430.5" fill="#fff" stroke="#fff" stroke-width="0.3" font-size="9" font-family="Liberation Sans" font-style="italic">404</text>
<!-- clamp diagram purple -->
<path d="M622.6,317 L638,317 L638,324 L633.2,324 L633.2,340.6 L638,340.6 L638,344.2 L622.6,344.2 L622.6,340.6 L625.6,340.6 L625.6,324 L622.6,324 Z" fill="#000"/>
<rect x="626.2" y="325" width="2.2" height="15" fill="#7070e0" stroke="none"/>
<path d="M638,320.5 L678.4,322 M638,323 L678.4,324.5" stroke-width="1.1"/>
<path d="M677.2,319.3 L685.5,319.3 L685.5,370.3 L677.2,370.3 Z M676,319.3 L686.5,319.3 M676,370.3 L686.5,370.3 M689,326.5 L689,364.5 M685.5,326.5 L689,326.5 M685.5,364.5 L689,364.5" stroke-width="1.1"/>
<rect x="679" y="325" width="3.5" height="13" fill="#7070e0" stroke="none"/>
<rect x="679" y="350" width="3.5" height="13" fill="#7070e0" stroke="none"/>
<path d="M622.6,355.5 L678,362 M623,358.5 L678,365.5 M622.6,355.5 L623,358.5" stroke-width="1.1"/>
<!-- 70 / 40 dims -->
<path d="M747.3,355 L780.5,355 M747.3,352 L747.3,358 M780.5,352 L780.5,358 M769.8,362 L780.5,362 M769.8,360 L769.8,364 M780.5,360 L780.5,364" stroke-width="1.1"/>
<text x="757" y="350" fill="#fff" stroke="#fff" stroke-width="0.3" font-size="11" font-family="Liberation Sans" font-style="italic">70</text><text x="766" y="377.5" fill="#fff" stroke="#fff" stroke-width="0.3" font-size="11" font-family="Liberation Sans" font-style="italic">40</text>
<rect x="749.6" y="381" width="27.4" height="32" stroke-width="1.4"/>
<path d="M750.8,382.2 L767.4,382.2 L767.4,408.3 L750.8,408.3" stroke-width="1.1"/>
<!-- fin plate -->
<path d="M603.6,382.5 L712.8,382.5 L712.8,415 L696.2,415 L696.2,410.6 L685.5,410.6 L685.5,415 L664,415 L664,410.6 L653.4,410.6 L653.4,415 L632,415 L632,410.6 L621.4,410.6 L621.4,415 L603.6,415 Z" stroke-width="1.5"/>
<path d="M610.7,385 L610.7,411 M621.4,385 L621.4,411 M632,384 L632,411 M653.4,384 L653.4,411 M664,384 L664,411 M685.5,384 L685.5,411 M696.2,385 L696.2,411 M704.5,385 L704.5,411" stroke-width="1"/>

<path d="M611.5,386 L620.5,386 M632.5,386 L653,386 M664.5,386 L685,386 M697,386 L703.5,386" stroke="#ccc" stroke-width="1.1"/><path d="M611.5,389 L620.5,389 M632.5,389 L653,389 M664.5,389 L685,389 M697,389 L703.5,389" stroke="#ccc" stroke-width="1.1"/><path d="M611.5,392 L620.5,392 M632.5,392 L653,392 M664.5,392 L685,392 M697,392 L703.5,392" stroke="#ccc" stroke-width="1.1"/><path d="M611.5,395 L620.5,395 M632.5,395 L653,395 M664.5,395 L685,395 M697,395 L703.5,395" stroke="#ccc" stroke-width="1.1"/><path d="M611.5,398 L620.5,398 M632.5,398 L653,398 M664.5,398 L685,398 M697,398 L703.5,398" stroke="#ccc" stroke-width="1.1"/><path d="M611.5,401 L620.5,401 M632.5,401 L653,401 M664.5,401 L685,401 M697,401 L703.5,401" stroke="#ccc" stroke-width="1.1"/><path d="M611.5,404 L620.5,404 M632.5,404 L653,404 M664.5,404 L685,404 M697,404 L703.5,404" stroke="#ccc" stroke-width="1.1"/><path d="M611.5,407 L620.5,407 M632.5,407 L653,407 M664.5,407 L685,407 M697,407 L703.5,407" stroke="#ccc" stroke-width="1.1"/><path d="M611.5,409.5 L620.5,409.5 M632.5,409.5 L653,409.5 M664.5,409.5 L685,409.5 M697,409.5 L703.5,409.5" stroke="#ccc" stroke-width="1.1"/>
<path d="M735.4,382.2 L735.4,413 M733,382.2 L738,382.2 M733,413 L738,413" stroke-width="1.1"/>
<text x="0" y="0" fill="#fff" stroke="#fff" stroke-width="0.3" font-size="6" font-family="Liberation Sans" transform="translate(728.5,394) rotate(90)">110</text><text x="739.5" y="414" fill="#fff" stroke="#fff" stroke-width="0.3" font-size="9" font-family="Liberation Sans" font-style="italic">16</text><text x="713" y="380" fill="#fff" stroke="#fff" stroke-width="0.3" font-size="5" font-family="Liberation Sans" >28</text><text x="716" y="387" fill="#fff" stroke="#fff" stroke-width="0.3" font-size="5" font-family="Liberation Sans" >9</text><text x="716" y="393" fill="#fff" stroke="#fff" stroke-width="0.3" font-size="5" font-family="Liberation Sans" >4</text>
<!-- 250 link -->
<path d="M646.3,432 L742.5,432 M646.3,430 L646.3,434.5 M742.5,430 L742.5,434.5" stroke-width="1.2"/>
<text x="689" y="430.5" fill="#fff" stroke="#fff" stroke-width="0.3" font-size="9" font-family="Liberation Sans" font-style="italic">250</text>
<rect x="648.1" y="437.6" width="94.3" height="16.5" rx="8.2" stroke-width="1.5"/>
<circle cx="656.1" cy="446" r="5" stroke-width="1.3"/>
<circle cx="734.3" cy="446" r="4" stroke-width="1.3"/>
<circle cx="646.1" cy="447" r="2.2" fill="#888" stroke-width="0.8"/>
<rect x="647.1" y="461.1" width="95.3" height="7" stroke-width="1.3"/>
<rect x="649" y="462.5" width="10" height="4.3" fill="#aaa" stroke="none"/>
<path d="M731.5,461.1 L731.5,468.1 M737,461.1 L737,468.1" stroke-width="1"/>
<path d="M745.5,463 L745.5,469 M744,463 L747,463 M744,469 L747,469" stroke-width="0.9"/>
<text x="743.5" y="469" fill="#fff" stroke="#fff" stroke-width="0.3" font-size="7" font-family="Liberation Sans" >6</text><text x="746" y="449" fill="#fff" stroke="#fff" stroke-width="0.3" font-size="5" font-family="Liberation Sans" >40</text>
<!-- T screws -->
<path d="M515,444.6 L543.3,444.6 L543.3,451.1 L536.9,451.1 L536.9,475.6 L546,475.6 L546,483.3 L515,483.3 L515,475.6 L525.3,475.6 L525.3,451.1 L515,451.1 Z" stroke-width="1.5"/>
<path d="M528,452 L528,475 M534,452 L534,475" stroke-width="0.9"/>
<path d="M528,453 L534,453" stroke="#ccc" stroke-width="0.9"/><path d="M528,455 L534,455" stroke="#ccc" stroke-width="0.9"/><path d="M528,457 L534,457" stroke="#ccc" stroke-width="0.9"/><path d="M528,459 L534,459" stroke="#ccc" stroke-width="0.9"/><path d="M528,461 L534,461" stroke="#ccc" stroke-width="0.9"/><path d="M528,463 L534,463" stroke="#ccc" stroke-width="0.9"/><path d="M528,465 L534,465" stroke="#ccc" stroke-width="0.9"/><path d="M528,467 L534,467" stroke="#ccc" stroke-width="0.9"/><path d="M528,469 L534,469" stroke="#ccc" stroke-width="0.9"/><path d="M528,471 L534,471" stroke="#ccc" stroke-width="0.9"/><path d="M528,473 L534,473" stroke="#ccc" stroke-width="0.9"/>
<path d="M516,479 L545,479 M516,481 L545,481" stroke-width="0.8"/>
<rect x="528" y="472" width="6" height="3.5" fill="#ccc" stroke="none"/>
<circle cx="522.7" cy="443.6" r="2.3" fill="#888" stroke-width="0.8"/>
<path d="M511,444.6 L511,483.3 M509.5,444.6 L512.5,444.6 M509.5,483.3 L512.5,483.3" stroke-width="0.9"/>
<text x="504" y="448" fill="#fff" stroke="#fff" stroke-width="0.3" font-size="4.5" font-family="Liberation Sans" >10</text><text x="504" y="467" fill="#fff" stroke="#fff" stroke-width="0.3" font-size="5" font-family="Liberation Sans" >50</text><text x="547" y="452" fill="#fff" stroke="#fff" stroke-width="0.3" font-size="9" font-family="Liberation Sans" font-style="italic">Φ60</text><text x="547" y="464" fill="#fff" stroke="#fff" stroke-width="0.3" font-size="9" font-family="Liberation Sans" font-style="italic">Φ20</text><text x="547" y="483" fill="#fff" stroke="#fff" stroke-width="0.3" font-size="6" font-family="Liberation Sans" >5I</text>
<path d="M576.8,443.4 L591,443.4 L591,449.8 L587.1,449.8 L587.1,464 L580.2,464 L580.2,449.8 L576.8,449.8 Z" stroke-width="1.3"/>
<path d="M580.5,452 L587,452 M580.5,455 L587,455 M580.5,458 L587,458 M580.5,461 L587,461" stroke="#ccc" stroke-width="0.9"/>
<circle cx="582" cy="445" r="2" fill="#888" stroke-width="0.8"/>
<path d="M582,471.7 L588.4,471.7 L588.4,487.2 L593.6,487.2 L593.6,492.3 L576.8,492.3 L576.8,487.2 L582,487.2 Z" stroke-width="1.3"/>
<path d="M582.5,474 L588,474 M582.5,477 L588,477 M582.5,480 L588,480 M582.5,483 L588,483" stroke="#ccc" stroke-width="0.9"/>
<circle cx="583.3" cy="494.5" r="2" fill="#888" stroke-width="0.8"/>
<path d="M575,471.7 L575,487.2 M573.5,471.7 L576.5,471.7 M573.5,487.2 L576.5,487.2 M573.5,446 L573.5,453 M572,446 L575,446 M572,453 L575,453" stroke-width="0.9"/>
<text x="566" y="453" fill="#fff" stroke="#fff" stroke-width="0.3" font-size="5" font-family="Liberation Sans" >10</text><text x="595" y="448.5" fill="#fff" stroke="#fff" stroke-width="0.3" font-size="6" font-family="Liberation Sans" font-style="italic">Φ10</text><text x="595" y="458.5" fill="#fff" stroke="#fff" stroke-width="0.3" font-size="6" font-family="Liberation Sans" font-style="italic">Φ14</text><text x="0" y="0" fill="#fff" stroke="#fff" stroke-width="0.3" font-size="4.5" font-family="Liberation Sans" transform="translate(566.5,477) rotate(90)">36</text><text x="567.5" y="492" fill="#fff" stroke="#fff" stroke-width="0.3" font-size="5" font-family="Liberation Sans" >8</text>
<!-- blocks 40/40/74 -->
<path d="M520,515.5 L530,515.5 Q537,516 537,524 L537,559 Q537,567 530,567 L520,567 Z" stroke-width="1.5"/>
<rect x="525.3" y="516.8" width="5" height="14" stroke-width="1"/>
<rect x="525.3" y="554" width="5" height="12" stroke-width="1"/>
<path d="M526,519 L530,519 M526,522 L530,522 M526,525 L530,525 M526,528 L530,528 M526,557 L530,557 M526,560 L530,560 M526,563 L530,563" stroke="#ccc" stroke-width="0.9"/>
<rect x="545.9" y="515.5" width="14.2" height="51.6" stroke-width="1.5"/>
<rect x="551.5" y="538.5" width="1.8" height="3" stroke-width="0.9"/>
<circle cx="549.8" cy="567.5" r="2.5" fill="#888" stroke-width="0.8"/>
<path d="M518.8,511.7 L536.9,511.7 M518.8,509.5 L518.8,514 M536.9,509.5 L536.9,514 M545.9,511.7 L558.8,511.7 M545.9,509.5 L545.9,514 M558.8,509.5 L558.8,514" stroke-width="1"/>
<path d="M569,515.5 L569,568.4 M566,515.5 L572,515.5 M566,568.4 L572,568.4" stroke-width="1.1"/>
<text x="522.5" y="510" fill="#fff" stroke="#fff" stroke-width="0.3" font-size="7.5" font-family="Liberation Sans" font-style="italic">40</text><text x="546" y="510" fill="#fff" stroke="#fff" stroke-width="0.3" font-size="7.5" font-family="Liberation Sans" font-style="italic">40</text><path d="M574.5,533 L582.5,532.5 L577,546.5 M588.5,532.5 L583.5,542 L592.5,541.5 M589.5,536 L589.5,546.5" stroke="#ddd" stroke-width="1.1"/>
<!-- plate 400 -->
<path d="M616,504.9 L715.8,504.9 M616,502.5 L616,507.5 M715.8,502.5 L715.8,507.5" stroke-width="1.2"/>
<text x="659.5" y="503.5" fill="#fff" stroke="#fff" stroke-width="0.3" font-size="8" font-family="Liberation Sans" font-style="italic">400</text>
<path d="M617.2,509.5 L714.6,510.6 L715.8,527.8 L713.5,530 L713.5,546 L715.8,548.5 L714.6,568 L681.4,569 L678,572.5 L648,572.5 L644.7,569 L616,566.8 L616,550.7 L613.75,547.3 L613.75,530 L617.2,526.7 Z" stroke-width="1.5"/>
<circle cx="613.75" cy="561" r="2.5" fill="#888" stroke-width="0.8"/>
<path d="M731.8,525.5 L731.8,552 M729.5,525.5 L734,525.5 M729.5,552 L734,552 M747.9,510.6 L747.9,570.2 M745.5,510.6 L750.5,510.6 M745.5,570.2 L750.5,570.2" stroke-width="1.1"/>
<text x="0" y="0" fill="#fff" stroke="#fff" stroke-width="0.3" font-size="7" font-family="Liberation Sans" transform="translate(724,516) rotate(90)">20±20</text><text x="0" y="0" fill="#fff" stroke="#fff" stroke-width="0.3" font-size="8" font-family="Liberation Sans" transform="translate(737,536) rotate(90)">300</text>
<rect x="614.9" y="580.5" width="99.7" height="5.8" stroke-width="1.3"/>
<path d="M643.6,580.5 L643.6,586.3 M648.1,580.5 L648.1,586.3 M678,580.5 L678,586.3 M682.5,580.5 L682.5,586.3" stroke-width="1"/>
<path d="M722.5,581 L722.5,588.5 M721,581 L724,581 M721,588.5 L724,588.5" stroke-width="1"/>
<text x="727" y="589.5" fill="#fff" stroke="#fff" stroke-width="0.3" font-size="9" font-family="Liberation Sans" >6</text>
<path d="M642.4,597.7 L682.5,597.7 M642.4,595.5 L642.4,600 M682.5,595.5 L682.5,600 M648,605.8 L676.8,605.8 M648,603.5 L648,608 M676.8,603.5 L676.8,608" stroke-width="1"/>
<text x="655" y="596.5" fill="#fff" stroke="#fff" stroke-width="0.3" font-size="7" font-family="Liberation Sans" font-style="italic">100</text><text x="657.5" y="604.5" fill="#fff" stroke="#fff" stroke-width="0.3" font-size="7" font-family="Liberation Sans" font-style="italic">80</text>
<rect x="610.3" y="617.2" width="99.7" height="16.1" rx="8" stroke-width="1.5"/>
<path d="M635.5,617.2 L635.5,633.3" stroke-width="1.2"/>
<circle cx="613.75" cy="625.2" r="2.5" fill="#888" stroke-width="0.8"/>
<circle cx="700.9" cy="625.2" r="3.5" stroke-width="1.3"/>
<path d="M611.5,636.7 L635.5,636.7 M611.5,634.5 L611.5,639 M635.5,634.5 L635.5,639" stroke-width="1"/>
<text x="621.5" y="647" fill="#fff" stroke="#fff" stroke-width="0.3" font-size="7" font-family="Liberation Sans" font-style="italic">60</text>
</g>
</svg>
</body></html>
